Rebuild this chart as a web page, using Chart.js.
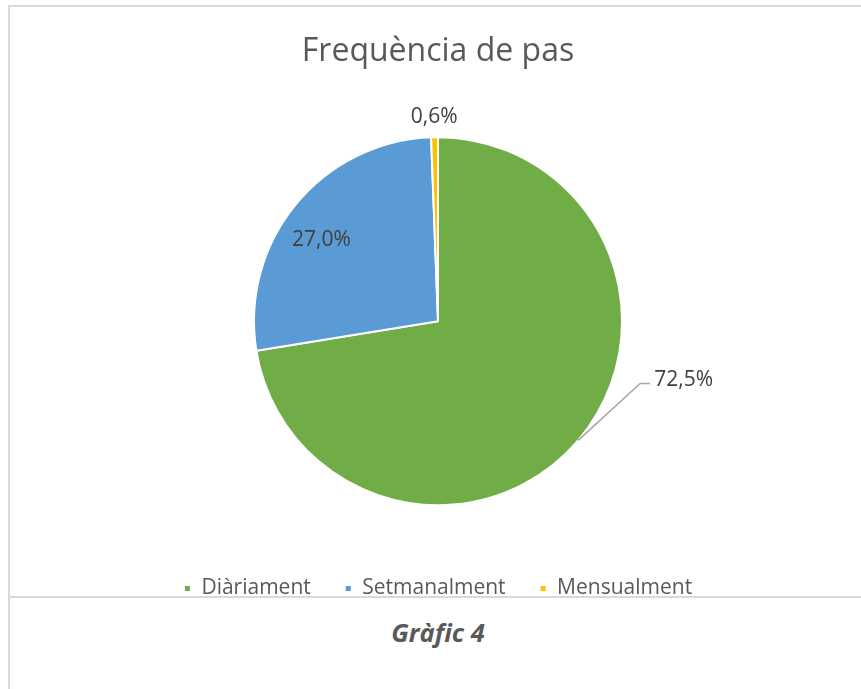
<!DOCTYPE html>
<html>
<head>
<meta charset="utf-8">
<script src="https://cdn.jsdelivr.net/npm/chart.js@4"></script>
<style>
  html, body { margin: 0; padding: 0; width: 861px; height: 689px; overflow: hidden; background: #fff; }
  .linia { position: absolute; background: #d9d9d9; z-index: 3; }
  #marc { position: absolute; left: 10px; top: 7px; width: 856px; height: 602px; z-index: 1; }
  #peu { position: absolute; left: 10px; top: 598px; width: 851px; height: 91px; background: #fff; z-index: 2;
         font: italic bold 25.5px "Open Sans"; color: #595959; }
  #peu span { position: absolute; left: 0; width: 856px; top: 17px; text-align: center; }
</style>
</head>
<body>
<div class="linia" style="left:8px; top:5px; width:853px; height:2px;"></div>
<div class="linia" style="left:8px; top:5px; width:2px; height:684px;"></div>
<div class="linia" style="left:8px; top:596px; width:853px; height:2px;"></div>
<canvas id="marc" width="856" height="602"></canvas>
<div id="peu"><span>Gràfic 4</span></div>
<script>
const categories = ['Diàriament', 'Setmanalment', 'Mensualment'];
const percentatges = [72.5, 27.0, 0.6];
const colors = ['#70AD47', '#5B9BD5', '#FFC000'];
const titol = 'Frequència de pas';

// etiquetes de percentatge (dins, fora i amb línia guia)
const etiquetes = {
  id: 'etiquetes',
  afterDatasetsDraw(chart, args, opts) {
    const ctx = chart.ctx;
    const meta = chart.getDatasetMeta(0);
    ctx.save();
    ctx.font = opts.font;
    ctx.fillStyle = opts.color;
    ctx.textBaseline = 'middle';
    meta.data.forEach((arc, i) => {
      const p = arc.getProps(['x', 'y', 'startAngle', 'endAngle', 'outerRadius'], true);
      const mig = (p.startAngle + p.endAngle) / 2;
      const pos = opts.posicions[i];
      const text = percentatges[i].toFixed(1).replace('.', ',') + '%';
      if (pos.guia) {
        const x0 = p.x + Math.cos(mig) * p.outerRadius;
        const y0 = p.y + Math.sin(mig) * p.outerRadius;
        const x1 = x0 + pos.dx, y1 = y0 + pos.dy;
        ctx.strokeStyle = '#a6a6a6';
        ctx.lineWidth = 1.5;
        ctx.beginPath();
        ctx.moveTo(x0, y0);
        ctx.lineTo(x1, y1);
        ctx.lineTo(x1 + 10, y1);
        ctx.stroke();
        ctx.textAlign = 'left';
        ctx.fillText(text, x1 + 14, y1 - 3);
      } else {
        const r = p.outerRadius * pos.r;
        ctx.textAlign = 'center';
        ctx.fillText(text, p.x + Math.cos(mig) * r + (pos.dx || 0), p.y + Math.sin(mig) * r + (pos.dy || 0));
      }
    });
    ctx.restore();
  }
};

const ctx = document.getElementById('marc').getContext('2d');
new Chart(ctx, {
  type: 'pie',
  data: {
    labels: categories,
    datasets: [{
      data: percentatges,
      backgroundColor: colors,
      borderColor: '#ffffff',
      borderWidth: 2,
      radius: 184
    }]
  },
  options: {
    responsive: false,
    devicePixelRatio: 1,
    animation: false,
    layout: { padding: 0 },
    plugins: {
      title: {
        display: true,
        text: titol,
        color: '#595959',
        font: { family: 'Open Sans', size: 32, weight: 'normal' },
        padding: { top: 26, bottom: 27 }
      },
      legend: {
        position: 'bottom',
        labels: {
          boxWidth: 7,
          boxHeight: 7,
          padding: 34,
          color: '#595959',
          font: { family: 'Open Sans', size: 21 }
        }
      },
      tooltip: { enabled: false },
      etiquetes: {
        font: '21px "Open Sans"',
        color: '#404040',
        posicions: [
          { guia: true, dx: 62, dy: -57 },
          { r: 0.77, dx: -7, dy: 9 },
          { r: 1.11 }
        ]
      }
    }
  },
  plugins: [etiquetes]
});
</script>
</body>
</html>
